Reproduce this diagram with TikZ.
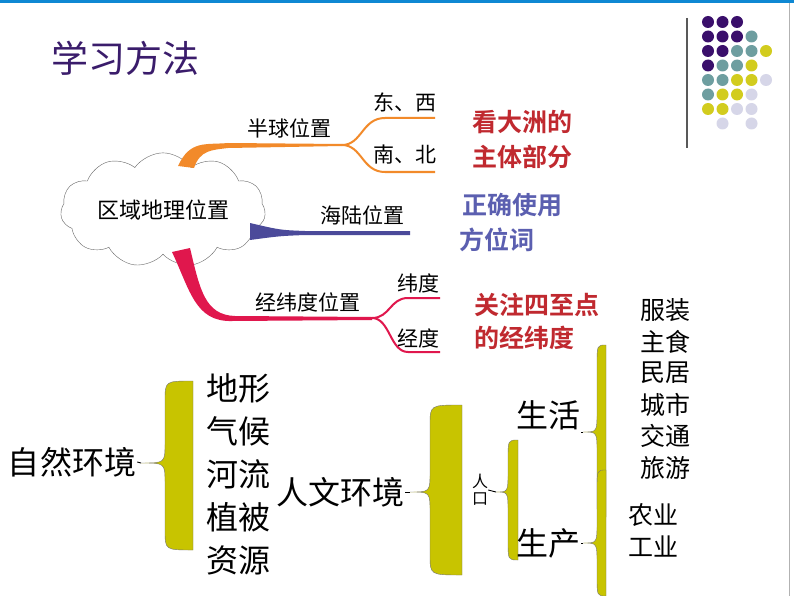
\documentclass[tikz,border=0pt]{standalone}
\usepackage{fontspec}
\setmainfont{Noto Sans CJK SC}
\newfontfamily\boldcjk{Noto Sans CJK SC Bold}
\usetikzlibrary{shapes.symbols}
\definecolor{titlepurple}{HTML}{3A1C6B}
\definecolor{orangebr}{HTML}{F28A2A}
\definecolor{bluebr}{HTML}{4B4A9A}
\definecolor{redbr}{HTML}{E0174D}
\definecolor{notered}{HTML}{C0292F}
\definecolor{noteblue}{HTML}{5B5FB0}
\definecolor{olive}{HTML}{C8C400}
\definecolor{dotP}{HTML}{3A0F6B}
\definecolor{dotT}{HTML}{6E9EA0}
\definecolor{dotY}{HTML}{D2CC1E}
\definecolor{dotL}{HTML}{D6D6E8}
\tikzset{
  mapword/.style={font=\fontsize{21}{23}\selectfont, inner sep=1pt},
  noteword/.style={font=\boldcjk\fontsize{25}{27}\selectfont, inner sep=1pt},
  bigword/.style={font=\fontsize{32}{34}\selectfont, inner sep=1pt},
  listword/.style={font=\fontsize{25}{27}\selectfont, inner sep=1pt},
  tick/.style={draw=black, line width=0.9pt}
}
% filled brace: x, top, bottom, middle, width, tip
\newcommand{\olivebrace}[6]{%
  \fill[olive, draw=black!55, line width=0.4pt]
    (#1+#5,#2) .. controls (#1,#2) .. (#1,#2+20) -- (#1,#4-20)
    .. controls (#1,#4) .. (#1-#6,#4) .. controls (#1,#4) .. (#1,#4+20)
    -- (#1,#3-20) .. controls (#1,#3) .. (#1+#5,#3) -- cycle;}

\begin{document}
\begin{tikzpicture}[x=1pt, y=-1pt]
    \useasboundingbox (0,0) rectangle (794,596);
    \fill[white] (0,0) rectangle (794,596);
    \fill[cyan!70!blue] (0,0) rectangle (794,3);
    \draw[black!30] (789,3) -- (789,596);

    % Title and dots
    \node[font=\fontsize{37}{39}\selectfont, text=titlepurple] (title) at (125,58) {学习方法};
    \draw[black!65, line width=1.5pt] (687,18) -- (687,148);
    \foreach \r/\a/\b/\c/\d/\e in {0/P/P/P/N/N, 1/P/P/P/T/N, 2/P/P/T/T/Y, 3/P/T/T/Y/N,
        4/T/T/Y/Y/L, 5/T/Y/Y/L/N, 6/Y/Y/L/L/N, 7/N/L/N/L/N}{
      \foreach \k/\col in {0/\a, 1/\b, 2/\c, 3/\d, 4/\e}{
        \if N\col\else
          \fill[dot\col] (708+14.5*\k, 22+14.5*\r) circle (6);
        \fi
      }
    }

    % Mind map
    \node[cloud, cloud puffs=11, cloud puff arc=110, aspect=2.2, draw=black!60, fill=white,
      minimum width=205, minimum height=100, font=\fontsize{22}{24}\selectfont] (region) at (163,210) {区域地理位置};

    \coordinate (hemi) at (342,145);
    \fill[orangebr] (178,166) .. controls (190,140) and (205,145) .. (228,143)
      -- (342,144) -- (342,146) -- (228,148) .. controls (212,150) and (200,150) .. (194,168) -- cycle;
    \draw[orangebr, line width=2pt] (hemi) .. controls (362,145) and (362,118) .. (385,118) -- (435,118);
    \draw[orangebr, line width=2pt] (hemi) .. controls (362,145) and (362,172) .. (385,172) -- (435,172);
    \node[mapword] (hemiL) at (289,128) {半球位置};
    \node[mapword] (ew) at (405,102) {东、西};
    \node[mapword] (ns) at (405,155) {南、北};

    \fill[bluebr] (250,223) .. controls (280,230) .. (305,231) -- (410,231) -- (410,235)
      -- (305,235) .. controls (280,236) .. (250,240) -- cycle;
    \node[mapword] (sea) at (362,215) {海陆位置};

    \coordinate (grid) at (372,318);
    \fill[redbr] (172,252) -- (190,248) .. controls (200,290) and (205,315) .. (235,316)
      -- (372,317) -- (372,320) -- (232,321) .. controls (195,322) and (190,290) .. cycle;
    \draw[redbr, line width=2pt] (grid) .. controls (390,318) and (390,298) .. (408,298) -- (440,298);
    \draw[redbr, line width=2pt] (grid) .. controls (390,318) and (390,352) .. (408,352) -- (440,352);
    \node[mapword] (gridL) at (308,302) {经纬度位置};
    \node[mapword] (lat) at (418,283) {纬度};
    \node[mapword] (lon) at (418,338) {经度};

    \node[noteword, text=notered] (noteA1) at (522,122) {看大洲的};
    \node[noteword, text=notered] (noteA2) at (522,157) {主体部分};
    \node[noteword, text=noteblue] (noteB1) at (512,205) {正确使用};
    \node[noteword, text=noteblue] (noteB2) at (497,240) {方位词};
    \node[noteword, text=notered] (noteC1) at (537,305) {关注四至点};
    \node[noteword, text=notered] (noteC2) at (524,338) {的经纬度};

    % Environments
    \node[bigword] (nature) at (72,462) {自然环境};
    \olivebrace{165}{381}{550}{463}{28}{24}
    \draw[tick] (nature.east) -- (141,463);
    \foreach \w [count=\i from 0] in {地形, 气候, 河流, 植被, 资源}
      \node[bigword] (nat\i) at (238,388+43*\i) {\w};

    \node[bigword] (human) at (340,492) {人文环境};
    \olivebrace{430}{405}{575}{492}{32}{20}
    \draw[tick] (human.east) -- (410,492);
    \node[font=\fontsize{16}{17}\selectfont, align=center, inner sep=0pt] (people) at (480,490) {人\\口};
    \olivebrace{508}{440}{560}{492}{10}{12}
    \draw[tick] (people.east) -- (496,492);

    \node[bigword] (life) at (548,415) {生活};
    \node[bigword] (prod) at (548,543) {生产};
    \olivebrace{597}{345}{517}{432}{9}{14}
    \olivebrace{597}{470}{596}{543}{9}{14}
    \draw[tick] (life.east |- 0,432) -- (583,432);
    \draw[tick] (prod.east) -- (583,543);
    \foreach \w [count=\i from 0] in {服装, 主食, 民居, 城市, 交通, 旅游}
      \node[listword] (live\i) at (665,310+31.5*\i) {\w};
    \node[listword] (farm) at (653,515) {农业};
    \node[listword] (ind) at (653,546) {工业};
\end{tikzpicture}
\end{document}
